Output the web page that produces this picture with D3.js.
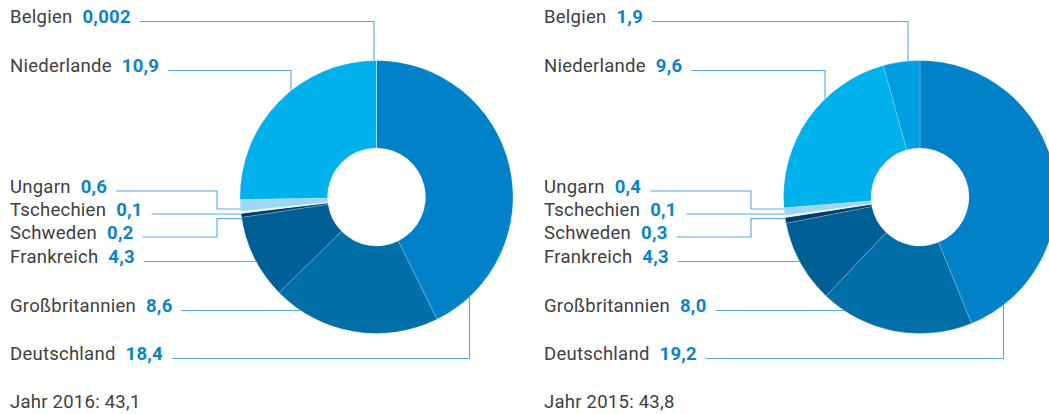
<!DOCTYPE html>
<html>
<head>
<meta charset="utf-8">
<script src="https://cdn.jsdelivr.net/npm/d3@7"></script>
<style>
  body { margin: 0; background: #fff; }
  text { font-family: Roboto, "Noto Sans", sans-serif; font-size: 18.5px; letter-spacing: 0.25px; }
  .name { fill: #404040; }
  .val { fill: #0a84c8; font-weight: bold; }
  .total { fill: #404040; }
</style>
</head>
<body>
<svg id="chart" width="1049" height="414"></svg>
<script>
// data, clockwise from 12 o'clock
const countries = ["Deutschland", "Großbritannien", "Frankreich", "Schweden", "Tschechien", "Ungarn", "Niederlande", "Belgien"];
const values2016 = [18.4, 8.6, 4.3, 0.2, 0.1, 0.6, 10.9, 0.002];
const values2015 = [19.2, 8.0, 4.3, 0.3, 0.1, 0.4, 9.6, 1.9];
const years = [2016, 2015];

const colors = ["#0081c8", "#006ea7", "#005f94", "#003f6b", "#f2f9fd", "#9dd7f5", "#00b1eb", "#009ee0"];

// label baselines and leader routing (x relative to the label column)
const labelY = [360, 312, 263, 238.5, 215.5, 192.5, 72, 23];
const leaders = [
  { type: "v", x: 459.5 },
  { type: "h" },
  { type: "h" },
  { type: "e", x: 207, y: 218.5 },
  { type: "h" },
  { type: "e", x: 207, y: 209 },
  { type: "v", x: 281 },
  { type: "v", x: 364 }
];

const charts = [
  { values: values2016, year: years[0], labelX: 10, cx: 376.5, cy: 197 },
  { values: values2015, year: years[1], labelX: 544, cx: 920, cy: 197 }
];

const outerR = 136.5, innerR = 49;
const de = d3.formatLocale({ decimal: ",", thousands: ".", grouping: [3], currency: ["", "€"] });
const fmt1 = de.format(".1f"), fmt3 = de.format(".3f");
const fmtVal = function(v) { return v < 0.05 ? fmt3(v) : fmt1(v); };

const svg = d3.select("#chart");

const pie = d3.pie().sort(null).value(function(d) { return d; });
const arc = d3.arc().innerRadius(innerR).outerRadius(outerR);

charts.forEach(function(c) {
  const g = svg.append("g");

  // donut
  g.append("g")
      .attr("transform", "translate(" + c.cx + "," + c.cy + ")")
    .selectAll("path")
    .data(pie(c.values))
    .enter().append("path")
      .attr("d", arc)
      .attr("fill", function(d, i) { return colors[i]; })
      .attr("stroke", "rgba(255,255,255,0.35)")
      .attr("stroke-width", 0.6);

  // labels
  const labels = g.selectAll(".lbl")
    .data(countries)
    .enter().append("text")
      .attr("class", "lbl")
      .attr("x", c.labelX)
      .attr("y", function(d, i) { return labelY[i]; });
  labels.append("tspan").attr("class", "name").text(function(d) { return d; });
  labels.append("tspan").attr("class", "val").attr("dx", 10)
      .text(function(d, i) { return fmtVal(c.values[i]); });

  // leader lines
  labels.each(function(d, i) {
    const bb = this.getBBox();
    const y = labelY[i] - 1.5;
    const x0 = bb.x + bb.width + 9;
    const L = leaders[i];
    let pts;
    if (L.type === "h") {
      const dy = y - c.cy;
      const xe = c.cx - Math.sqrt(outerR * outerR - dy * dy);
      pts = [[x0, y], [xe, y]];
    } else if (L.type === "v") {
      const xv = c.labelX + L.x;
      const dx = xv - c.cx;
      const h = Math.sqrt(outerR * outerR - dx * dx);
      const ye = y < c.cy ? c.cy - h : c.cy + h;
      pts = [[x0, y], [xv, y], [xv, ye]];
    } else {
      const xv = c.labelX + L.x;
      const dy = L.y - c.cy;
      const xe = c.cx - Math.sqrt(outerR * outerR - dy * dy);
      pts = [[x0, y], [xv, y], [xv, L.y], [xe, L.y]];
    }
    g.append("path")
      .attr("d", d3.line()(pts))
      .attr("fill", "none")
      .attr("stroke", "#55a9de")
      .attr("stroke-width", 1.1);
  });

  // total
  g.append("text")
    .attr("class", "total")
    .attr("x", c.labelX)
    .attr("y", 408)
    .text("Jahr " + c.year + ": " + fmt1(d3.sum(c.values)));
});
</script>
</body>
</html>
